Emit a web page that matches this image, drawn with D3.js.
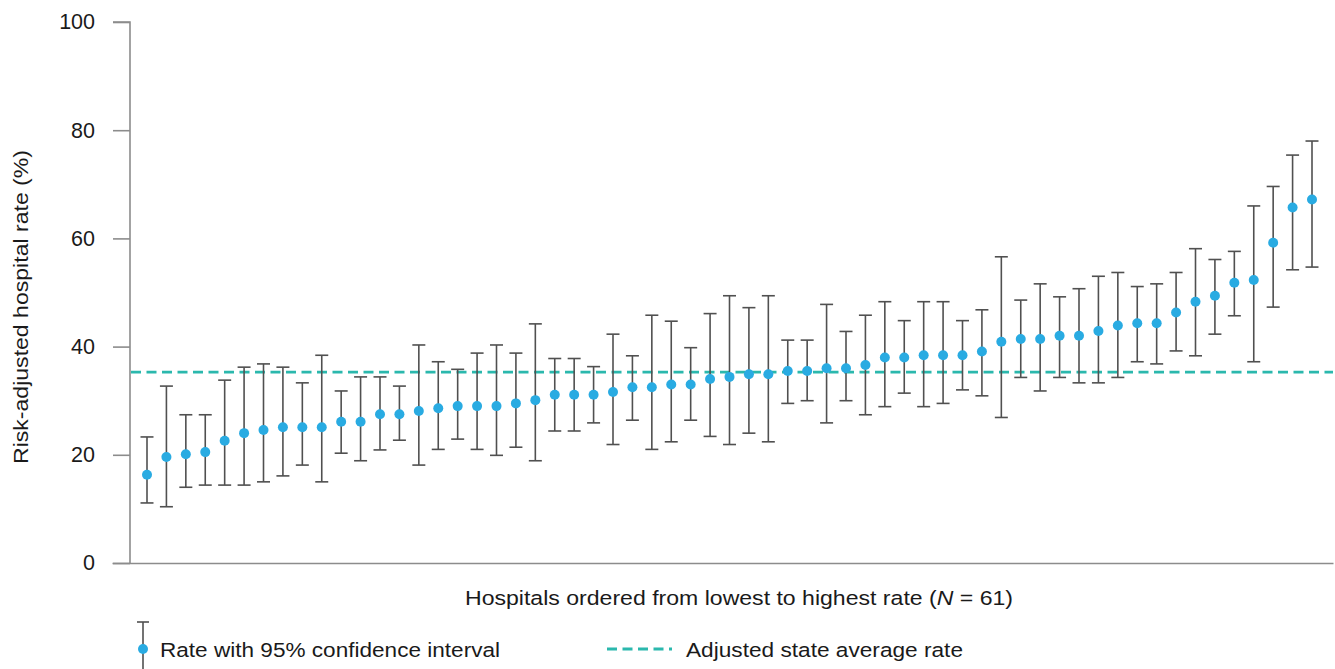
<!DOCTYPE html>
<html>
<head>
<meta charset="utf-8">
<script src="https://cdn.jsdelivr.net/npm/d3@7"></script>
<style>
  html, body { margin: 0; padding: 0; background: #ffffff; }
  svg { display: block; font-family: "Liberation Sans", Arial, Helvetica, sans-serif; }
</style>
</head>
<body>
<svg id="chart" width="1335" height="669"></svg>
<script>
// ---- Data ----
const hospitals = d3.range(1, 62);
const rates = [16.3, 19.6, 20.1, 20.5, 22.6, 24.0, 24.6, 25.1, 25.1, 25.1,
               26.1, 26.1, 27.5, 27.5, 28.1, 28.6, 29.0, 29.0, 29.0, 29.5,
               30.1, 31.1, 31.1, 31.1, 31.6, 32.5, 32.5, 33.0, 33.0, 34.0,
               34.4, 34.9, 34.9, 35.5, 35.5, 36.0, 36.0, 36.6, 38.0, 38.0,
               38.4, 38.4, 38.4, 39.1, 40.9, 41.4, 41.4, 42.0, 42.0, 42.9,
               43.9, 44.3, 44.3, 46.3, 48.3, 49.4, 51.8, 52.3, 59.2, 65.7, 67.2];
const upper = [23.3, 32.7, 27.4, 27.4, 33.8, 36.2, 36.8, 36.2, 33.3, 38.4,
               31.8, 34.4, 34.4, 32.7, 40.3, 37.2, 35.8, 38.8, 40.3, 38.8,
               44.2, 37.8, 37.8, 36.3, 42.3, 38.3, 45.8, 44.7, 39.8, 46.1,
               49.4, 47.2, 49.4, 41.2, 41.2, 47.8, 42.8, 45.8, 48.3, 44.8,
               48.3, 48.3, 44.8, 46.8, 56.6, 48.6, 51.6, 49.2, 50.7, 53.0,
               53.7, 51.1, 51.6, 53.7, 58.1, 56.1, 57.6, 66.0, 69.6, 75.4, 78.0];
const lower = [11.1, 10.4, 14.0, 14.4, 14.4, 14.4, 15.0, 16.1, 18.1, 15.0,
               20.3, 18.9, 20.9, 22.7, 18.1, 21.0, 22.9, 21.0, 19.9, 21.4,
               18.9, 24.4, 24.4, 25.9, 21.9, 26.4, 21.0, 22.4, 26.4, 23.4,
               21.9, 24.0, 22.4, 29.5, 30.0, 25.9, 30.0, 27.4, 28.9, 31.4,
               28.9, 29.5, 32.0, 30.9, 26.9, 34.3, 31.8, 34.3, 33.3, 33.3,
               34.3, 37.2, 36.8, 39.2, 38.3, 42.3, 45.7, 37.2, 47.3, 54.2, 54.7];
const stateAverage = 35.3;
const yTicks = [0, 20, 40, 60, 80, 100];
const yTitle = "Risk-adjusted hospital rate (%)";
const legendLabels = ["Rate with 95% confidence interval", "Adjusted state average rate"];

// ---- Layout ----
const svg = d3.select("#chart");
const axisX = 130, plotTop = 22, plotBottom = 563, plotRight = 1333;
const dotColor = "#29abe2", barColor = "#505050", axisColor = "#8c8c8c", avgColor = "#2bb8ad";
const textColor = "#1a1a1a";

const x = d3.scalePoint().domain(hospitals).range([147, 1312]);
const y = d3.scaleLinear().domain([0, 100]).range([plotBottom, plotTop]);

// y axis
const yAxis = d3.axisLeft(y).tickValues(yTicks).tickSize(17).tickPadding(18);
const gy = svg.append("g").attr("transform", `translate(${axisX},0)`).call(yAxis);
gy.select(".domain").attr("stroke", axisColor).attr("stroke-width", 1.6)
  .attr("d", `M-17,${plotTop}H0V${plotBottom}`);
gy.selectAll(".tick line").attr("stroke", axisColor).attr("stroke-width", 1.6);
gy.selectAll(".tick text").attr("font-size", 21.5).attr("fill", textColor)
  .attr("font-family", "'Liberation Sans', Arial, sans-serif");

// x axis line (no ticks)
const gx = svg.append("g").attr("transform", `translate(0,${plotBottom})`)
  .call(d3.axisBottom(d3.scaleLinear().domain([0, 1]).range([axisX - 18, plotRight])).tickValues([]).tickSizeOuter(0));
gx.select(".domain").attr("stroke", axisColor).attr("stroke-width", 1.6);

// state average dashed line
svg.append("line")
  .attr("x1", axisX + 1).attr("x2", plotRight)
  .attr("y1", y(stateAverage)).attr("y2", y(stateAverage))
  .attr("stroke", avgColor).attr("stroke-width", 2.8).attr("stroke-dasharray", "10,5.5");

// error bars
const data = hospitals.map((h, i) => ({ h, r: rates[i], lo: lower[i], hi: upper[i] }));
const cap = 6.5;
const eb = svg.append("g").selectAll("g").data(data).join("g")
  .attr("stroke", barColor).attr("stroke-width", 1.6);
eb.append("line").attr("x1", d => x(d.h)).attr("x2", d => x(d.h))
  .attr("y1", d => y(d.hi)).attr("y2", d => y(d.lo));
eb.append("line").attr("x1", d => x(d.h) - cap).attr("x2", d => x(d.h) + cap)
  .attr("y1", d => y(d.hi)).attr("y2", d => y(d.hi));
eb.append("line").attr("x1", d => x(d.h) - cap).attr("x2", d => x(d.h) + cap)
  .attr("y1", d => y(d.lo)).attr("y2", d => y(d.lo));

// dots
svg.append("g").selectAll("circle").data(data).join("circle")
  .attr("cx", d => x(d.h)).attr("cy", d => y(d.r)).attr("r", 5)
  .attr("fill", dotColor);

// y title
svg.append("text")
  .attr("transform", `translate(28,307) rotate(-90)`)
  .attr("text-anchor", "middle").attr("font-size", 20.5).attr("fill", textColor)
  .attr("textLength", 314).attr("lengthAdjust", "spacingAndGlyphs")
  .text(yTitle);

// x title with italic N
const xt = svg.append("text").attr("x", 739).attr("y", 605)
  .attr("text-anchor", "middle").attr("font-size", 20.5).attr("fill", textColor)
  .attr("textLength", 548).attr("lengthAdjust", "spacingAndGlyphs");
xt.append("tspan").text("Hospitals ordered from lowest to highest rate (");
xt.append("tspan").attr("font-style", "italic").text("N");
xt.append("tspan").text(" = 61)");

// legend
const lg = svg.append("g");
lg.append("line").attr("x1", 143).attr("x2", 143).attr("y1", 622).attr("y2", 669)
  .attr("stroke", barColor).attr("stroke-width", 1.6);
lg.append("line").attr("x1", 137).attr("x2", 149).attr("y1", 622).attr("y2", 622)
  .attr("stroke", barColor).attr("stroke-width", 1.6);
lg.append("circle").attr("cx", 143).attr("cy", 649).attr("r", 5).attr("fill", dotColor);
lg.append("text").attr("x", 160).attr("y", 657).attr("font-size", 20.5).attr("fill", textColor)
  .attr("textLength", 340).attr("lengthAdjust", "spacingAndGlyphs")
  .text(legendLabels[0]);
lg.append("line").attr("x1", 607).attr("x2", 672).attr("y1", 649).attr("y2", 649)
  .attr("stroke", avgColor).attr("stroke-width", 2.8).attr("stroke-dasharray", "10,5.5");
lg.append("text").attr("x", 686).attr("y", 657).attr("font-size", 20.5).attr("fill", textColor)
  .attr("textLength", 277).attr("lengthAdjust", "spacingAndGlyphs")
  .text(legendLabels[1]);
</script>
</body>
</html>
